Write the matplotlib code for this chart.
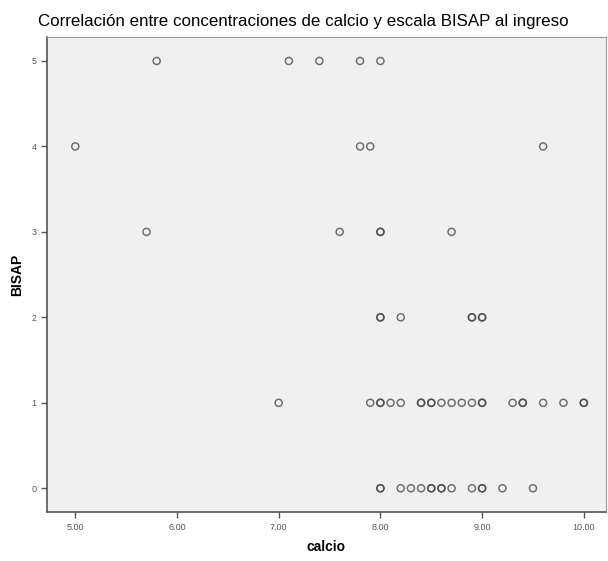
import numpy as np
import matplotlib
matplotlib.use("Agg")
import matplotlib.pyplot as plt

plt.rcParams['font.family'] = ['Liberation Sans', 'DejaVu Sans']

# calcio values per BISAP level (duplicates where circles overlap darker)
calcio_0 = [8.0, 8.0, 8.2, 8.3, 8.4, 8.5, 8.5, 8.6, 8.6, 8.7, 8.9, 9.0, 9.0, 9.2, 9.5]
calcio_1 = [7.0, 7.9, 8.0, 8.0, 8.1, 8.2, 8.4, 8.4, 8.5, 8.5, 8.6, 8.7, 8.8, 8.9, 9.0,
            9.0, 9.3, 9.4, 9.4, 9.6, 9.8, 10.0, 10.0]
calcio_2 = [8.0, 8.0, 8.2, 8.9, 8.9, 9.0, 9.0]
calcio_3 = [5.7, 7.6, 8.0, 8.0, 8.7]
calcio_4 = [5.0, 7.8, 7.9, 9.6]
calcio_5 = [5.8, 7.1, 7.4, 7.8, 8.0]

groups = [calcio_0, calcio_1, calcio_2, calcio_3, calcio_4, calcio_5]
x = np.concatenate([np.array(g) for g in groups])
y = np.concatenate([np.full(len(g), i) for i, g in enumerate(groups)])

x_ticks = [5.0, 6.0, 7.0, 8.0, 9.0, 10.0]
y_ticks = [0, 1, 2, 3, 4, 5]

fig = plt.figure(figsize=(6.08, 5.61), dpi=100)
ax = fig.add_axes([0.077, 0.087, 0.92, 0.847])
ax.set_facecolor('#f0f0f0')

ax.scatter(x, y, s=26, facecolors='none', edgecolors='#444444', linewidths=1.1, alpha=0.75, zorder=3)

ax.set_xlim(4.72, 10.22)
ax.set_ylim(-0.28, 5.28)
ax.set_xticks(x_ticks)
ax.set_xticklabels(['%.2f' % v for v in x_ticks])
ax.set_yticks(y_ticks)
ax.tick_params(axis='both', labelsize=6.5, colors='#555555', direction='out', length=4, width=1)

for side in ['left', 'bottom']:
    ax.spines[side].set_color('#555555')
    ax.spines[side].set_linewidth(1.2)
for side in ['top', 'right']:
    ax.spines[side].set_color('#999999')
    ax.spines[side].set_linewidth(0.8)

ax.set_xlabel('calcio', fontsize=10, fontweight='bold', labelpad=6)
ax.set_ylabel('BISAP', fontsize=10, fontweight='bold', labelpad=5)
fig.text(0.499, 0.962, 'Correlación entre concentraciones de calcio y escala BISAP al ingreso',
         ha='center', va='center', fontsize=12.2)

fig.savefig('out.png', dpi=100)
